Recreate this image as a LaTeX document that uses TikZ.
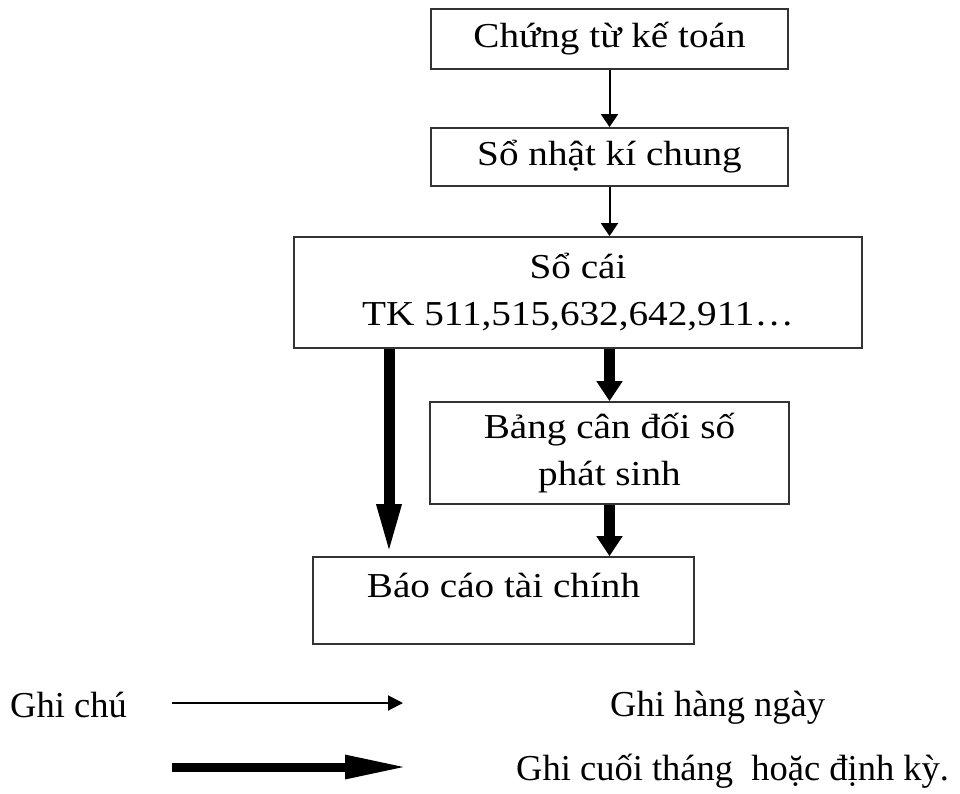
\documentclass[tikz,border=0pt]{standalone}
\usepackage{fontspec}
\setmainfont{Liberation Serif}
\newfontfamily\hopfont[FakeStretch=1.12]{Liberation Serif}
\usetikzlibrary{arrows.meta}
\tikzset{
  hop/.style={draw=black!80, line width=1.8pt, inner sep=0pt, align=center,
    font=\hopfont\fontsize{35}{47}\selectfont},
  mui/.style={line width=2pt, -{Triangle[length=13pt,width=17pt]}},
  muidam/.style={line width=11pt, -{Triangle[length=20pt,width=25pt]}},
  chu/.style={font=\fontsize{36.5}{44}\selectfont, inner sep=0pt, anchor=base west}
}
\begin{document}
\begin{tikzpicture}[x=1pt,y=-1pt]
	\useasboundingbox (0,0) rectangle (960,793);
	% Cac hop
		\node[hop, minimum width=357pt, minimum height=60pt] (ctkt) at (609.5,39) {Chứng từ kế toán};
		\node[hop, minimum width=357pt, minimum height=58pt] (snkc) at (609.5,157) {Sổ nhật kí chung};
		\node[hop, minimum width=568pt, minimum height=111pt] (socai) at (578,292.5) {Sổ cái\\TK 511,515,632,642,911\ldots};
		\node[hop, minimum width=359pt, minimum height=102pt] (bcdps) at (609.5,453) {Bảng cân đối số\\phát sinh};
		\node[hop, minimum width=381pt, minimum height=87pt, text height=25pt, text depth=32pt] (bctc) at (503.5,600.5) {Báo cáo tài chính};
	% Mui ten
		\draw[mui] (ctkt) -- (snkc);
		\draw[mui] (snkc.south) -- (snkc.south |- socai.north);
		\coordinate (trai) at (389,0);
		\draw[muidam, -{Triangle[length=52pt,width=22pt]}] (socai.south -| trai) -- (bctc.north -| trai);
		\draw[muidam] (socai.south -| bcdps) -- (bcdps.north);
		\draw[muidam] (bcdps.south) -- (bcdps.south |- bctc.north);
	% Ghi chu
		\node[chu] (ghichu) at (10,717) {Ghi chú};
		\coordinate (a1) at (172,703);
		\coordinate (a2) at (403,703);
		\draw[mui, -{Triangle[length=15pt,width=15pt]}] (a1) -- (a2);
		\coordinate (b1) at (172,767);
		\coordinate (b2) at (408,767);
		\draw[line width=9pt, -{Triangle[length=63pt,width=22pt]}] (b1) -- (b2);
		\node[chu] (hangngay) at (610,716) {Ghi hàng ngày};
		\node[chu] (dinhky) at (516,780) {Ghi cuối tháng\ \ hoặc định kỳ.};
\end{tikzpicture}
\end{document}
